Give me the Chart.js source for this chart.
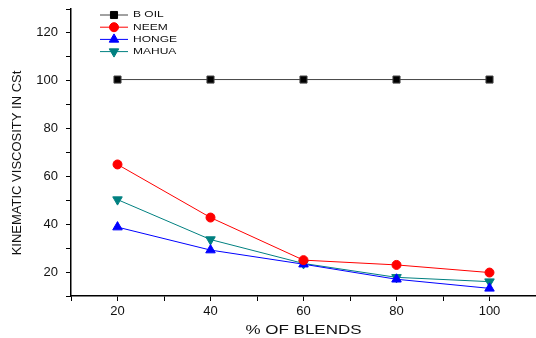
<!DOCTYPE html>
<html>
<head>
<meta charset="utf-8">
<script src="https://cdn.jsdelivr.net/npm/chart.js@4"></script>
<style>
  html, body { margin: 0; padding: 0; background: #fff; }
  #wrap { width: 536px; height: 338px; }
</style>
</head>
<body>
<div id="wrap"><canvas id="chart"></canvas></div>
<script>
// blend percentages on the x axis
const blends = [20, 40, 60, 80, 100];

// kinematic viscosity (cSt) per oil
const bOil = [100.5, 100.5, 100.5, 100.5, 100.5];
const neem = [65, 42.8, 25, 23, 19.8];
const honge = [38.8, 29.2, 23.3, 17, 13.2];
const mahua = [50.3, 33.6, 23.6, 17.8, 16];

const xTitle = '% OF BLENDS';
const yTitle = 'KINEMATIC VISCOSITY IN CSt';

const FONT = 'Liberation Sans, Arial, sans-serif';

const toPoints = vals => vals.map((v, i) => ({ x: blends[i], y: v }));

// text drawn a little flattened, the way the exported figure renders it
function flatText(ctx, text, x, y, size, squash) {
  ctx.save();
  ctx.translate(x, y);
  ctx.scale(1, squash);
  ctx.font = size + 'px ' + FONT;
  ctx.fillText(text, 0, 0);
  ctx.restore();
}

// legend with a short line + marker per series, plus the two axis titles
const decorations = {
  id: 'decorations',
  afterDatasetsDraw(chart) {
    const ctx = chart.ctx;
    const area = chart.chartArea;
    const x0 = 100, x1 = 128, top = 15, rowH = 12.2;
    ctx.save();
    chart.data.datasets.forEach((ds, i) => {
      const y = top + i * rowH;
      ctx.strokeStyle = ds.borderColor;
      ctx.lineWidth = 1;
      ctx.beginPath();
      ctx.moveTo(x0, y);
      ctx.lineTo(x1, y);
      ctx.stroke();
      ctx.fillStyle = ds.backgroundColor;
      ctx.strokeStyle = ds.backgroundColor;
      Chart.helpers.drawPoint(ctx, {
        pointStyle: ds.pointStyle,
        radius: ds.pointRadius,
        rotation: ds.pointRotation || 0,
        borderWidth: 1
      }, (x0 + x1) / 2, y);
      ctx.fillStyle = '#111';
      ctx.textBaseline = 'middle';
      ctx.textAlign = 'left';
      flatText(ctx, ds.label, x1 + 5, y, 12, 0.75);
    });

    ctx.fillStyle = '#111';
    ctx.textAlign = 'center';
    ctx.textBaseline = 'middle';
    flatText(ctx, xTitle, (area.left + area.right) / 2, 330, 17, 0.78);

    ctx.save();
    ctx.translate(17, 163);
    ctx.rotate(-Math.PI / 2);
    ctx.font = '13px ' + FONT;
    ctx.fillText(yTitle, 0, 0);
    ctx.restore();
    ctx.restore();
  }
};

new Chart(document.getElementById('chart'), {
  type: 'line',
  data: {
    datasets: [
      {
        label: 'B OIL', data: toPoints(bOil),
        borderColor: '#444', backgroundColor: '#000',
        pointStyle: 'rect', pointRadius: 5, borderWidth: 1
      },
      {
        label: 'NEEM', data: toPoints(neem),
        borderColor: '#ff0000', backgroundColor: '#ff0000',
        pointStyle: 'circle', pointRadius: 4.5, borderWidth: 1
      },
      {
        label: 'HONGE', data: toPoints(honge),
        borderColor: '#0000ff', backgroundColor: '#0000ff',
        pointStyle: 'triangle', pointRadius: 5.5, borderWidth: 1
      },
      {
        label: 'MAHUA', data: toPoints(mahua),
        borderColor: '#008080', backgroundColor: '#008080',
        pointStyle: 'triangle', pointRotation: 180, pointRadius: 5.5, borderWidth: 1
      }
    ]
  },
  options: {
    responsive: true,
    maintainAspectRatio: false,
    animation: false,
    layout: { autoPadding: false, padding: { top: 9, right: 0, left: 0, bottom: 0 } },
    elements: { point: { borderWidth: 1 }, line: { tension: 0 } },
    plugins: { legend: { display: false }, tooltip: { enabled: false } },
    scales: {
      x: {
        type: 'linear',
        min: 10, max: 110,
        afterFit: s => { s.height = 42; s.paddingLeft = 0; s.paddingRight = 0; },
        border: { color: '#000', width: 1.5 },
        grid: { drawOnChartArea: false, tickLength: 5, tickColor: '#000' },
        ticks: {
          stepSize: 10, color: '#111', padding: 3,
          font: { family: FONT, size: 13 },
          callback: v => (v % 20 === 0 ? v : '')
        }
      },
      y: {
        min: 10, max: 130,
        afterFit: s => { s.width = 71; s.paddingTop = 0; s.paddingBottom = 0; },
        border: { color: '#000', width: 1.5 },
        grid: { drawOnChartArea: false, tickLength: 5, tickColor: '#000' },
        ticks: {
          stepSize: 10, color: '#111', padding: 8,
          font: { family: FONT, size: 13 },
          callback: v => (v % 20 === 0 && v <= 120 ? v : '')
        }
      }
    }
  },
  plugins: [decorations]
});
</script>
</body>
</html>
